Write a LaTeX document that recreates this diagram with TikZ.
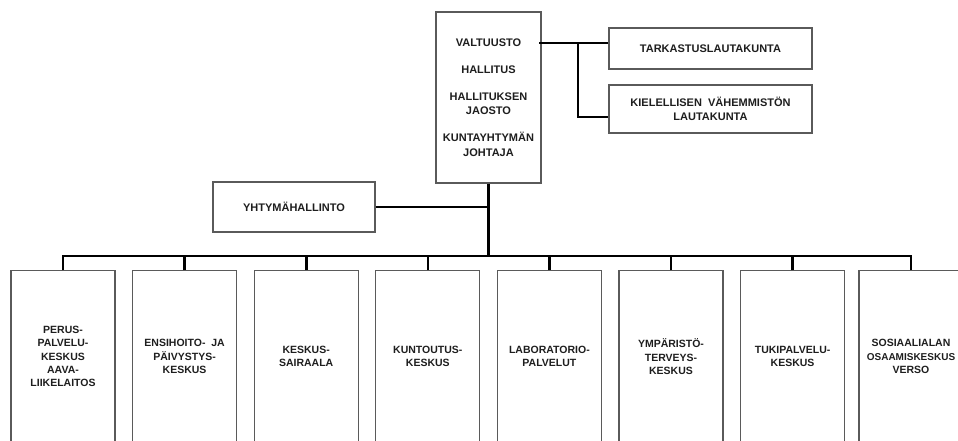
\documentclass[tikz,border=0pt]{standalone}
\usepackage{fontspec}
\setmainfont{Liberation Sans}
\usetikzlibrary{calc}
\definecolor{BoxGray}{HTML}{5A5A5A}
\definecolor{TextBlack}{HTML}{1E1E1E}

\begin{document}
\begin{tikzpicture}[x=1pt,y=-1pt,line join=miter,
  box/.style={draw=BoxGray,line width=1.2pt,align=center,inner sep=0pt,text=TextBlack,
    font=\bfseries\fontsize{11}{14.5}\selectfont},
  unit/.style={box,anchor=north,minimum width=104pt,minimum height=172pt,
    font=\bfseries\fontsize{10.5}{13.3}\selectfont},
  bus/.style={line width=2.6pt}]
  \clip (0,0) rectangle (958,440);
  \node[box,minimum width=105pt,minimum height=171pt] (V) at (488.5,97.5)
    {VALTUUSTO\\[12.5pt]HALLITUS\\[12.5pt]HALLITUKSEN\\JAOSTO\\[12.5pt]KUNTAYHTYMÄN\\JOHTAJA};
  \node[box,minimum width=203pt,minimum height=41pt] (T) at (710.5,48.5) {TARKASTUSLAUTAKUNTA};
  \node[box,minimum width=203pt,minimum height=48pt] (K) at (710.5,109) {KIELELLISEN\ \ VÄHEMMISTÖN\\LAUTAKUNTA};
  \node[box,minimum width=162pt,minimum height=50pt] (Y) at (294,207) {YHTYMÄHALLINTO};
  \coordinate (valt) at (539,43); \coordinate (kiel) at (578,117); \coordinate (bus) at (0,256);
  \draw[bus] (valt) -- (T.west |- valt); \draw[bus] (valt -| kiel) |- (K.west |- kiel);
  \draw[line width=1.6pt] (Y.east) -- (Y.east -| V.south);
  % yksiköt
  \node[unit] (B1) at (63,270) {PERUS-\\PALVELU-\\KESKUS\\AAVA-\\LIIKELAITOS};
  \node[unit] (B2) at (184.6,270) {ENSIHOITO-\ \ JA\\PÄIVYSTYS-\\KESKUS};
  \node[unit] (B3) at (306.2,270) {KESKUS-\\SAIRAALA};
  \node[unit] (B4) at (427.8,270) {KUNTOUTUS-\\KESKUS};
  \node[unit] (B5) at (549.4,270) {LABORATORIO-\\PALVELUT};
  \node[unit] (B6) at (671,270) {YMPÄRISTÖ-\\TERVEYS-\\KESKUS};
  \node[unit] (B7) at (792.6,270) {TUKIPALVELU-\\KESKUS};
  \node[unit] (B8) at (911,270) {SOSIAALIALAN\\{\fontsize{10}{13.3}\selectfont OSAAMISKESKUS}\\VERSO};
  \draw[bus] (V.south) -- (V.south |- bus);
  \draw[bus] (B1.north) |- (B8.north |- bus) -- (B8.north);
  \foreach \i in {2,...,7} \draw[bus] (B\i.north) -- (B\i.north |- bus);
\end{tikzpicture}
\end{document}
